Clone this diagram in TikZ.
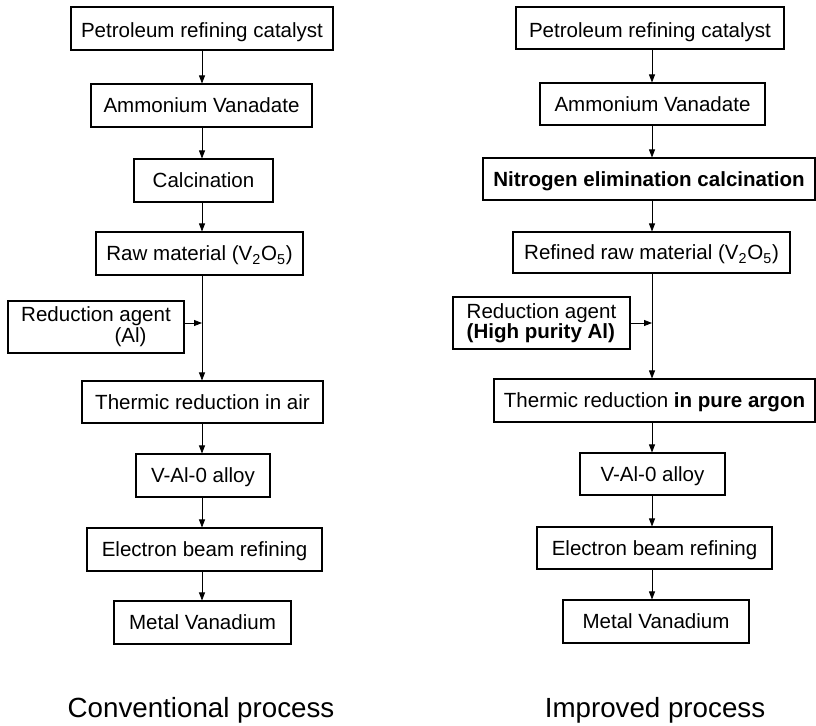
\documentclass[tikz,border=0pt]{standalone}
\usepackage{fontspec}
\setmainfont{Liberation Sans}
\usetikzlibrary{arrows.meta}
\begin{document}
\begin{tikzpicture}[x=0.75pt,y=-0.75pt,
  box/.style 2 args={draw, line width=0.8pt, rectangle, inner sep=0pt,
    minimum width=#1*0.75pt, minimum height=#2*0.75pt,
    font=\fontsize{15.4}{18}\selectfont, align=center},
  oneline/.style={text height=11pt, text depth=0pt},
  toprow/.style={text height=13.5pt, text depth=0pt},
  arr/.style={line width=0.6pt, -{Triangle[length=6pt,width=4.5pt]}},
  captxt/.style={font=\fontsize{20.8}{24}\selectfont, anchor=base}]
\useasboundingbox (0,0) rectangle (816,725);
% trunks
\coordinate (tL) at (202,0);
\coordinate (tR) at (652,0);
% left column
\node[box={262}{43}, toprow] (L1) at (202,28.5) {Petroleum refining catalyst};
\node[box={221}{43}, oneline] (L2) at (201.5,105.5) {Ammonium Vanadate};
\node[box={139}{43}, oneline] (L3) at (203.5,180.5) {Calcination};
\node[box={207}{43}, oneline] (L4) at (199.5,253.5) {Raw material (V\textsubscript{2}O\textsubscript{5})};
\node[box={176}{52}, align=left, font=\fontsize{15.4}{15.5}\selectfont] (LR) at (96,327) {Reduction agent\\\hspace*{70pt}(Al)};
\node[box={241}{42}, oneline] (LT) at (202.5,402) {Thermic reduction in air};
\node[box={134}{43}, oneline] (LV) at (203,475.5) {V-Al-0 alloy};
\node[box={235}{43}, oneline] (LE) at (204.5,549.5) {Electron beam refining};
\node[box={177}{43}, oneline] (LM) at (202.5,622.5) {Metal Vanadium};
% right column
\node[box={268}{42}, toprow] (R1) at (650,28) {Petroleum refining catalyst};
\node[box={225}{42}, oneline] (R2) at (652.5,104) {Ammonium Vanadate};
\node[box={332}{42}, oneline] (RN) at (649,179) {\textbf{Nitrogen elimination calcination}};
\node[box={277}{41}, oneline] (R4) at (651.5,252.5) {Refined raw material (V\textsubscript{2}O\textsubscript{5})};
\node[box={177}{52}, align=left, font=\fontsize{15.4}{12.5}\selectfont] (RR) at (541.5,323) {Reduction agent\\\textbf{(High purity Al)}};
\node[box={321}{43}, oneline] (RT) at (654.5,400.5) {Thermic reduction \textbf{in pure argon}};
\node[box={145}{42}, oneline] (RV) at (652.5,474) {V-Al-0 alloy};
\node[box={235}{42}, oneline] (RE) at (654.5,548) {Electron beam refining};
\node[box={186}{43}, oneline] (RM) at (656,621.5) {Metal Vanadium};
% captions
\node[captxt] (C1) at (201,717) {Conventional process};
\node[captxt] (C2) at (655,717) {Improved process};
% left arrows
\draw[arr] (L1.south -| tL) -- (L2.north -| tL);
\draw[arr] (L2.south -| tL) -- (L3.north -| tL);
\draw[arr] (L3.south -| tL) -- (L4.north -| tL);
\draw[arr] (L4.south -| tL) -- (LT.north -| tL);
\draw[arr] ([yshift=3pt]LR.east) -- ([yshift=3pt]LR.east -| tL);
\draw[arr] (LT.south -| tL) -- (LV.north -| tL);
\draw[arr] (LV.south -| tL) -- (LE.north -| tL);
\draw[arr] (LE.south -| tL) -- (LM.north -| tL);
% right arrows
\draw[arr] (R1.south -| tR) -- (R2.north -| tR);
\draw[arr] (R2.south -| tR) -- (RN.north -| tR);
\draw[arr] (RN.south -| tR) -- (R4.north -| tR);
\draw[arr] (R4.south -| tR) -- (RT.north -| tR);
\draw[arr] (RR.east) -- (RR.east -| tR);
\draw[arr] (RT.south -| tR) -- (RV.north -| tR);
\draw[arr] (RV.south -| tR) -- (RE.north -| tR);
\draw[arr] (RE.south -| tR) -- (RM.north -| tR);
\end{tikzpicture}
\end{document}
